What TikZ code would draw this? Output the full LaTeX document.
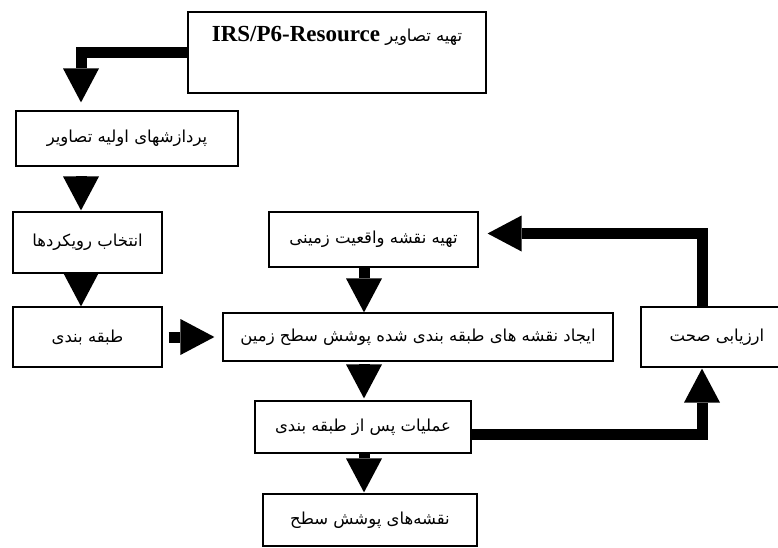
\documentclass[tikz,border=0pt]{standalone}
\usepackage{fontspec}
\setmainfont{Liberation Serif}
\newfontfamily\farsi[Script=Arabic]{DejaVu Sans}
\TeXXeTstate=1
\usetikzlibrary{arrows.meta}
\begin{document}
\begin{tikzpicture}[x=1pt,y=-1pt,
  box/.style={draw,line width=1.2pt,inner sep=3pt,font=\farsi\fontsize{16.5}{19}\selectfont},
  bigarrow/.style={line width=11pt,-{Triangle[width=36pt,length=34pt,line width=0pt]}}]
\useasboundingbox (0,0) rectangle (778,548);

\coordinate (ax) at (81,0);
\coordinate (mx) at (364,0);
\coordinate (rx) at (702,0);

\node[box,minimum width=298pt,minimum height=81pt,text height=27pt,text depth=48pt] (acq) at (337,52.5)
  {{\rmfamily\bfseries\fontsize{23}{26}\selectfont IRS/P6-Resource} \beginR تهیه تصاویر\endR};
\node[box,minimum width=222pt,minimum height=55pt] (pre) at (127,138.5) {\beginR پردازشهای اولیه تصاویر\endR};
\node[box,minimum width=149pt,minimum height=61pt] (sel) at (87.5,242.5) {\beginR انتخاب رویکردها\endR};
\node[box,minimum width=149pt,minimum height=60pt] (cls) at (87.5,337) {\beginR طبقه بندی\endR};

\node[box,minimum width=209pt,minimum height=55pt] (gt) at (373.5,239.5) {\beginR تهیه نقشه واقعیت زمینی\endR};
\node[box,minimum width=390pt,minimum height=48pt] (lc) at (418,337) {\beginR ایجاد نقشه های طبقه بندی شده پوشش سطح زمین\endR};
\node[box,minimum width=152pt,minimum height=60pt] (acc) at (717,337) {\beginR ارزیابی صحت\endR};
\node[box,minimum width=216pt,minimum height=52pt] (post) at (363,427) {\beginR عملیات پس از طبقه بندی\endR};
\node[box,minimum width=214pt,minimum height=52pt] (out) at (370,520) {\beginR نقشه‌های پوشش سطح\endR};

\draw[bigarrow,shorten >=8pt] (acq.west) -| (pre.north -| ax);
\draw[bigarrow,shorten <=11pt,shorten >=1pt] (pre.south -| ax) -- (sel.north -| ax);
\draw[bigarrow] (sel.south -| ax) -- (cls.north -| ax);
\draw[bigarrow,shorten <=6pt,shorten >=8pt] (cls.east) -- (lc.west);

\draw[bigarrow] (gt.south -| mx) -- (lc.north -| mx);
\draw[bigarrow,shorten <=3pt,shorten >=2pt] (lc.south -| mx) -- (post.north -| mx);
\draw[bigarrow,shorten >=1pt] (post.south -| mx) -- (out.north -| mx);

\draw[bigarrow,shorten >=1pt] ([yshift=-7pt]post.east) -| (acc.south -| rx);
\draw[bigarrow,shorten >=9pt] (acc.north -| rx) |- ([yshift=6pt]gt.east);
\end{tikzpicture}
\end{document}
